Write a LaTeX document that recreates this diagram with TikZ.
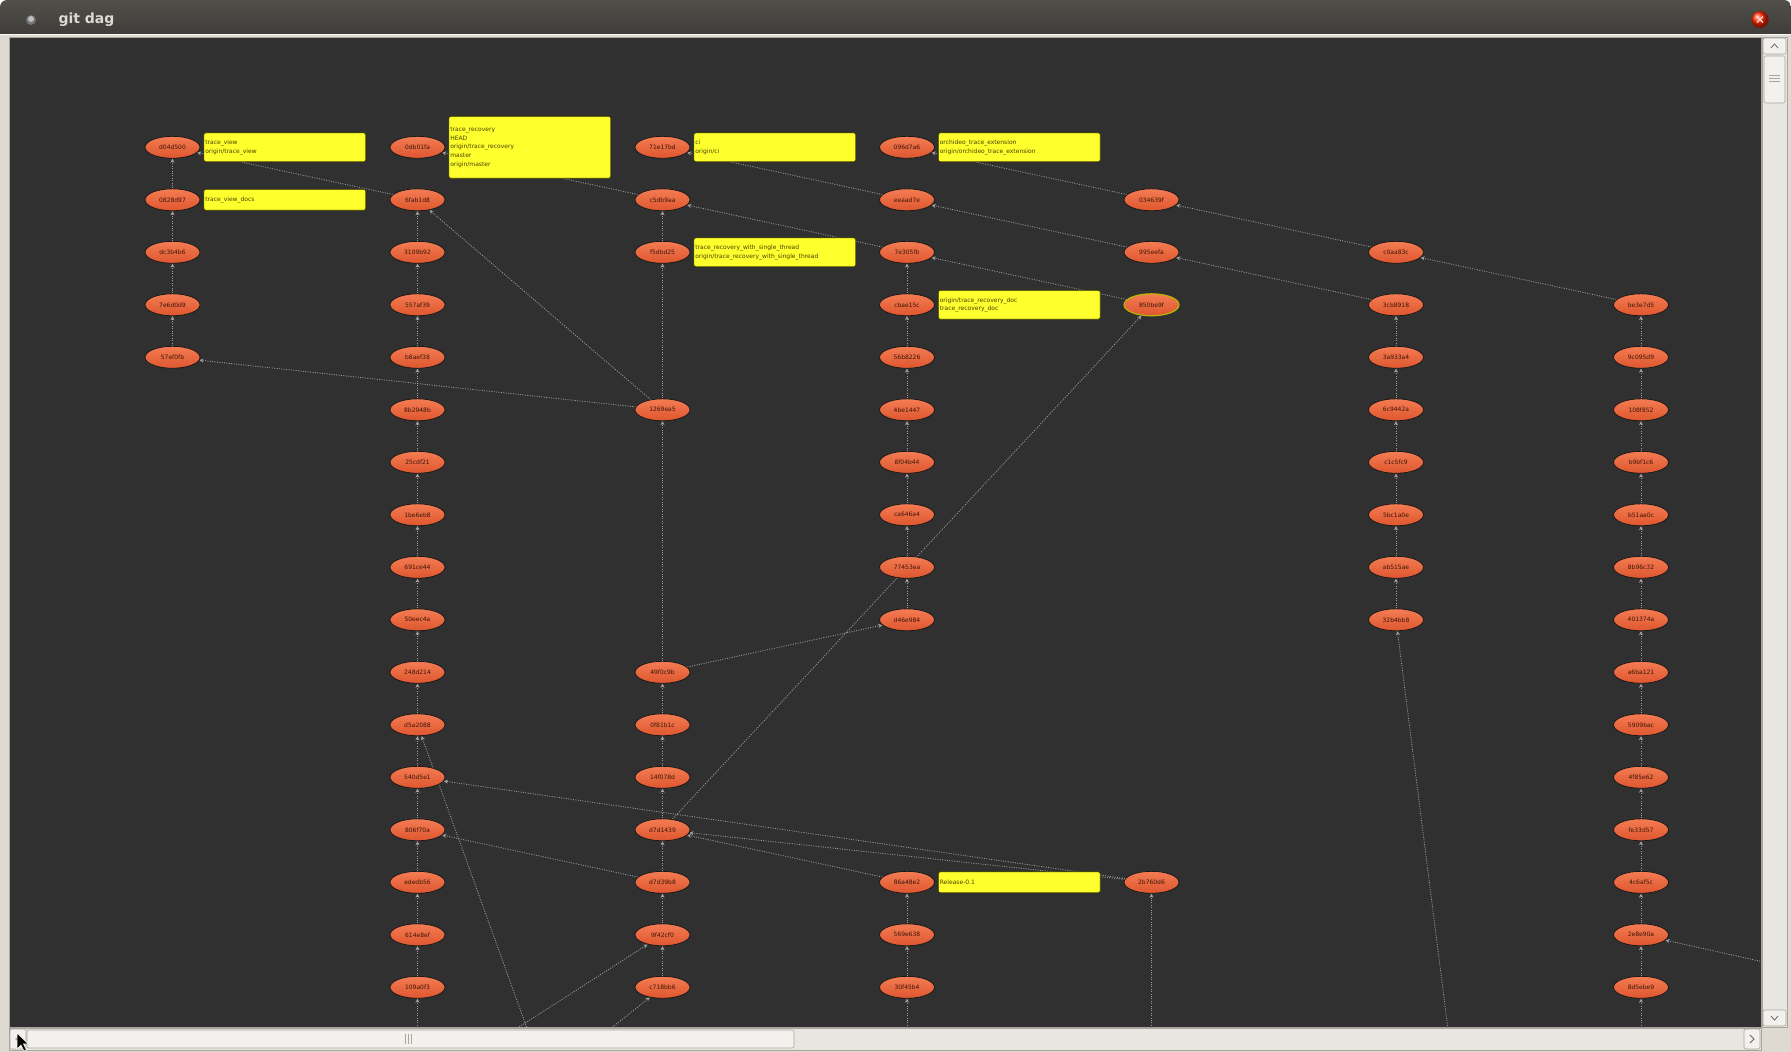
\documentclass[tikz,border=0pt]{standalone}
\usepackage{fontspec}
\setmainfont{DejaVu Sans}
\usepackage{xcolor}
\usetikzlibrary{arrows, arrows.meta}
\usetikzlibrary{positioning}
\usetikzlibrary{shapes.geometric}
\pgfdeclarelayer{back}
\pgfdeclarelayer{links}
\pgfsetlayers{back,links,main}
\definecolor{canvasgray}{HTML}{303030}
\definecolor{framegray}{HTML}{DEDAD2}
\definecolor{titletop}{HTML}{504F4A}
\definecolor{titlebot}{HTML}{393834}
\definecolor{nodetop}{HTML}{F47C53}
\definecolor{nodebot}{HTML}{DE562E}
\definecolor{nodeline}{HTML}{1A1A1A}
\definecolor{nodetext}{HTML}{3A1508}
\definecolor{tagfill}{HTML}{FFFF2E}
\definecolor{tagline}{HTML}{3C3C00}
\definecolor{tagtext}{HTML}{4A4200}
\definecolor{linkgray}{HTML}{A0A0A0}
\definecolor{pickline}{HTML}{B8B400}
\definecolor{troughgray}{HTML}{E8E6E1}
\definecolor{buttongray}{HTML}{F2F1EE}
\definecolor{edgeline}{HTML}{A9A59C}

\begin{document}
\begin{tikzpicture}[x=1pt, y=-1pt,
    commit/.style={ellipse, draw=nodeline, line width=0.8pt, top color=nodetop, bottom color=nodebot,
      minimum width=55pt, minimum height=22pt, inner sep=0pt, text=nodetext, font=\fontsize{6}{7}\selectfont},
    reftag/.style={draw=tagline, fill=tagfill, rounded corners=2pt, line width=0.8pt, text width=159pt,
      align=left, inner xsep=1.5pt, inner ysep=2pt, minimum height=29pt, text=tagtext,
      font=\fontsize{6}{8.75}\selectfont},
    link/.style={draw=linkgray, line width=0.8pt, dash pattern=on 1pt off 1.4pt,
      -{Stealth[length=4pt,width=4pt,fill=linkgray!80!white]}},
    sbutton/.style={draw=edgeline, fill=buttongray, rounded corners=2pt, line width=0.6pt}]
  \useasboundingbox (0,0) rectangle (1791,1052);

  % window frame, title bar and scroll bars
  \begin{pgfonlayer}{back}
    \fill[white] (0,0) rectangle (1791,1052);
    \shade[top color=titletop, bottom color=titlebot, rounded corners=7pt] (0,0) rectangle (1791,44);
    \fill[framegray] (0,34) rectangle (1791,1052);
    \draw[white!80!framegray, line width=1pt] (0,34.5) -- (1791,34.5);
    \fill[canvasgray] (9,37) rectangle (1761,1027);
    \draw[edgeline, line width=0.6pt] (9,37) rectangle (1761,1027);
    % vertical scroll bar
    \filldraw[fill=troughgray, draw=edgeline, line width=0.6pt] (1762,37) rectangle (1787,1027);
    \draw[sbutton] (1763,38) rectangle (1786,54);
    \draw[black!60, line width=0.8pt] (1771,48) -- (1774.5,44) -- (1778,48);
    \draw[sbutton] (1764,56) rectangle (1785,103);
    \foreach \g in {75,78,81} \draw[edgeline] (1769,\g) -- (1780,\g);
    \draw[sbutton] (1763,1010) rectangle (1786,1026);
    \draw[black!60, line width=0.8pt] (1771,1016) -- (1774.5,1020) -- (1778,1016);
    % horizontal scroll bar
    \filldraw[fill=troughgray, draw=edgeline, line width=0.6pt] (9,1028) rectangle (1761,1050);
    \draw[sbutton] (10,1029) rectangle (26,1049);
    \draw[black!60, line width=0.8pt] (20,1035) -- (16,1039) -- (20,1043);
    \draw[sbutton] (27,1030) rectangle (794,1048);
    \foreach \g in {405,408,411} \draw[edgeline] (\g,1034) -- (\g,1044);
    \draw[sbutton] (1744,1029) rectangle (1760,1049);
    \draw[black!60, line width=0.8pt] (1750,1035) -- (1754,1039) -- (1750,1043);
    % title bar buttons
    \fill[black!55] (31,20) circle (5);
    \fill[white!75!black] (31,19) circle (3);
    \shade[ball color=red!70!orange] (1760,19.5) circle (8.5);
    \draw[white!85!red, line width=1.3pt] (1757,16.5) -- (1763,22.5) (1757,22.5) -- (1763,16.5);
  \end{pgfonlayer}
  \node[anchor=west, text=framegray, font=\bfseries\fontsize{14}{16}\selectfont] (title) at (55,20) {git dag};

  % commits, one column at a time
  \foreach \n/\r in {d04d500/0,0828d97/1,dc3b4b6/2,7e6d0d9/3,57ef0fb/4}
    \node[commit] (\n) at (172.5,{147.3+52.5*\r}) {\n};
  \foreach \n/\r in {0db01fa/0,6fab1d8/1,3109b92/2,557af39/3,b8aef38/4,8b2948b/5,25cdf21/6,1be6eb8/7,
      691ce44/8,50eec4a/9,248d214/10,d5a2088/11,540d5e1/12,806f70a/13,ededb56/14,614e8ef/15,109a0f3/16}
    \node[commit] (\n) at (417.5,{147.3+52.5*\r}) {\n};
  \foreach \n/\r in {71e17bd/0,c5db9aa/1,f5dbd25/2,1269ea5/5,49f0c9b/10,0f81b1c/11,14f078d/12,
      d7d1439/13,d7d39b8/14,9f42cf0/15,c718bb6/16}
    \node[commit] (\n) at (662.5,{147.3+52.5*\r}) {\n};
  \foreach \n/\r in {096d7a6/0,eeaad7e/1,7e305fb/2,cbae15c/3,56b8226/4,4be1447/5,8f04b44/6,ca646a4/7,
      77453ea/8,d46e984/9,86a48e2/14,569e638/15,30f45b4/16}
    \node[commit] (\n) at (907,{147.3+52.5*\r}) {\n};
  \foreach \n/\r in {034639f/1,995eefa/2,2b760d6/14}
    \node[commit] (\n) at (1151.5,{147.3+52.5*\r}) {\n};
  \node[commit, draw=pickline, line width=1.2pt] (850be9f) at (1151.5,304.8) {850be9f};
  \foreach \n/\r in {c0aa83c/2,3cb8918/3,3a933a4/4,6c9442a/5,c1c5fc9/6,5bc1a0e/7,ab515ae/8,32b4bb8/9}
    \node[commit] (\n) at (1396,{147.3+52.5*\r}) {\n};
  \foreach \n/\r in {be3e7d5/3,9c095d9/4,108f852/5,b9bf1c6/6,b51aa0c/7,8b96c32/8,401374a/9,a6ba121/10,
      5909bac/11,4f85e62/12,fe33d57/13,4c6af5c/14,2e8e90a/15,8d5ebe9/16}
    \node[commit] (\n) at (1641,{147.3+52.5*\r}) {\n};

  % commits out of view
  \coordinate (bottom1) at (417.5,1045);
  \coordinate (bottom3) at (907,1045);
  \coordinate (bottom4) at (1151.5,1045);
  \coordinate (bottom6) at (1641,1045);
  \coordinate (offa) at (533,1045);
  \coordinate (offb) at (491,1045);
  \coordinate (offc) at (590,1045);
  \coordinate (offd) at (1450,1045);
  \coordinate (offe) at (1800,970);

  % parent links
  \begin{pgfonlayer}{links}
    \begin{scope}
      \clip (9,37) rectangle (1761,1027);
      \foreach \a/\b in {d04d500/0828d97,0828d97/dc3b4b6,dc3b4b6/7e6d0d9,7e6d0d9/57ef0fb,
          6fab1d8/3109b92,3109b92/557af39,557af39/b8aef38,b8aef38/8b2948b,8b2948b/25cdf21,
          25cdf21/1be6eb8,1be6eb8/691ce44,691ce44/50eec4a,50eec4a/248d214,248d214/d5a2088,
          d5a2088/540d5e1,540d5e1/806f70a,806f70a/ededb56,ededb56/614e8ef,614e8ef/109a0f3,
          c5db9aa/f5dbd25,f5dbd25/1269ea5,1269ea5/49f0c9b,49f0c9b/0f81b1c,0f81b1c/14f078d,
          14f078d/d7d1439,d7d1439/d7d39b8,d7d39b8/9f42cf0,9f42cf0/c718bb6,
          7e305fb/cbae15c,cbae15c/56b8226,56b8226/4be1447,4be1447/8f04b44,8f04b44/ca646a4,
          ca646a4/77453ea,77453ea/d46e984,86a48e2/569e638,569e638/30f45b4,
          3cb8918/3a933a4,3a933a4/6c9442a,6c9442a/c1c5fc9,c1c5fc9/5bc1a0e,5bc1a0e/ab515ae,
          ab515ae/32b4bb8,
          be3e7d5/9c095d9,9c095d9/108f852,108f852/b9bf1c6,b9bf1c6/b51aa0c,b51aa0c/8b96c32,
          8b96c32/401374a,401374a/a6ba121,a6ba121/5909bac,5909bac/4f85e62,4f85e62/fe33d57,
          fe33d57/4c6af5c,4c6af5c/2e8e90a,2e8e90a/8d5ebe9}
        \draw[link] (\b) -- (\a);
      % links across the columns
      \foreach \f/\t in {6fab1d8/d04d500,c5db9aa/0db01fa,eeaad7e/71e17bd,034639f/096d7a6,
          1269ea5/6fab1d8,1269ea5/57ef0fb,7e305fb/c5db9aa,995eefa/eeaad7e,850be9f/7e305fb,
          c0aa83c/034639f,3cb8918/995eefa,be3e7d5/c0aa83c,49f0c9b/d46e984,d7d1439/850be9f,
          2b760d6/540d5e1,2b760d6/d7d1439,86a48e2/d7d1439,d7d39b8/806f70a,
          offa/d5a2088,offb/9f42cf0,offc/c718bb6,offd/32b4bb8,offe/2e8e90a,
          bottom1/109a0f3,bottom3/30f45b4,bottom4/2b760d6,bottom6/8d5ebe9}
        \draw[link] (\f) -- (\t);
    \end{scope}
  \end{pgfonlayer}

  % branch and tag labels
  \node[reftag, right=3pt of d04d500] (tv) {trace\_view\\origin/trace\_view};
  \node[reftag, minimum height=21pt, right=3pt of 0828d97] (tvd) {trace\_view\_docs};
  \node[reftag, minimum height=62pt, right=3pt of 0db01fa] (tr) {trace\_recovery\\HEAD\\origin/trace\_recovery\\master\\origin/master};
  \node[reftag, right=3pt of 71e17bd] (ci) {ci\\origin/ci};
  \node[reftag, right=3pt of f5dbd25] (trst) {trace\_recovery\_with\_single\_thread\\origin/trace\_recovery\_with\_single\_thread};
  \node[reftag, right=3pt of 096d7a6] (ote) {orchideo\_trace\_extension\\origin/orchideo\_trace\_extension};
  \node[reftag, right=3pt of cbae15c] (trd) {origin/trace\_recovery\_doc\\trace\_recovery\_doc};
  \node[reftag, minimum height=21pt, right=3pt of 86a48e2] (rel) {Release-0.1};

  % mouse pointer
  \filldraw[fill=black, draw=white, line width=0.6pt] (17,1033) -- (17,1049) -- (21,1045) -- (24,1051) -- (26.5,1050) -- (23.5,1044) -- (28.5,1044) -- cycle;
\end{tikzpicture}
\end{document}
